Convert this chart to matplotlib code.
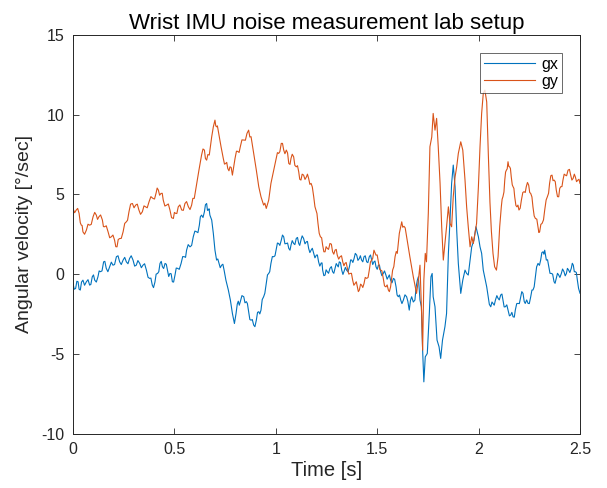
import matplotlib
matplotlib.use("Agg")
import matplotlib.pyplot as plt

plt.rcParams['font.family'] = ['Liberation Sans', 'DejaVu Sans']
plt.rcParams['axes.unicode_minus'] = False

# gx samples: (time [s], angular velocity [deg/s])
gx_samples = [
    (0.000, -0.59), (0.006, -0.95), (0.013, -0.90), (0.019, -0.45), (0.025, -0.48),
    (0.030, -0.95), (0.036, -1.00), (0.042, -0.50), (0.049, -0.38), (0.057, -0.70),
    (0.066, -0.48), (0.074, -0.35), (0.082, -0.69), (0.088, -0.65), (0.095, -0.17),
    (0.101, -0.05), (0.107, -0.38), (0.115, -0.50), (0.123, -0.17), (0.129, 0.20),
    (0.135, 0.15), (0.143, 0.20), (0.151, 0.77), (0.157, 0.80), (0.164, 0.36),
    (0.172, 0.15), (0.181, 0.46), (0.189, 0.75), (0.197, 0.56), (0.205, 0.60),
    (0.214, 1.09), (0.222, 1.15), (0.230, 0.77), (0.238, 0.60), (0.247, 0.88),
    (0.255, 1.05), (0.263, 0.77), (0.271, 0.65), (0.279, 0.98), (0.287, 1.15),
    (0.296, 0.88), (0.304, 0.50), (0.312, 0.56), (0.320, 0.85), (0.329, 0.67),
    (0.337, 0.40), (0.345, 0.56), (0.353, 0.65), (0.362, 0.25), (0.370, -0.20),
    (0.378, -0.27), (0.384, -0.25), (0.391, -0.69), (0.397, -0.85), (0.404, -0.50),
    (0.410, 0.00), (0.417, 0.04), (0.423, 0.15), (0.429, 0.67), (0.435, 0.80),
    (0.441, 0.46), (0.447, 0.35), (0.454, 0.67), (0.460, 0.62), (0.467, 0.15),
    (0.472, -0.15), (0.478, 0.04), (0.484, 0.02), (0.490, -0.48), (0.496, -0.50),
    (0.503, -0.06), (0.509, 0.38), (0.516, 0.36), (0.524, 0.30), (0.533, 0.67),
    (0.541, 1.10), (0.549, 1.09), (0.555, 1.05), (0.560, 1.50), (0.568, 1.85),
    (0.577, 1.71), (0.585, 1.80), (0.593, 2.34), (0.601, 2.70), (0.610, 2.65),
    (0.616, 2.60), (0.623, 3.07), (0.628, 3.60), (0.634, 3.70), (0.641, 3.55),
    (0.648, 3.91), (0.653, 4.35), (0.659, 4.43), (0.663, 4.00), (0.667, 4.02),
    (0.671, 4.10), (0.675, 3.70), (0.684, 3.39), (0.692, 2.55), (0.700, 1.50),
    (0.708, 0.88), (0.714, 0.95), (0.720, 0.67), (0.726, 0.40), (0.733, 0.56),
    (0.739, 0.62), (0.745, 0.25), (0.754, -0.38), (0.766, -1.00), (0.776, -1.63),
    (0.786, -2.47), (0.796, -3.10), (0.804, -2.47), (0.810, -1.88), (0.815, -1.70),
    (0.820, -1.95), (0.825, -1.73), (0.833, -1.35), (0.842, -1.42), (0.848, -1.80),
    (0.855, -1.73), (0.860, -1.85), (0.866, -2.36), (0.872, -2.85), (0.878, -2.89),
    (0.884, -2.85), (0.891, -3.20), (0.897, -3.30), (0.904, -2.89), (0.910, -2.40),
    (0.916, -2.36), (0.921, -2.50), (0.927, -2.26), (0.933, -1.60), (0.940, -1.42),
    (0.946, -1.20), (0.953, -0.59), (0.959, -0.05), (0.965, 0.04), (0.970, 0.15),
    (0.976, 0.67), (0.983, 1.10), (0.990, 1.09), (0.996, 1.15), (1.003, 1.61),
    (1.008, 1.95), (1.014, 1.92), (1.020, 1.80), (1.027, 2.13), (1.033, 2.45),
    (1.039, 2.34), (1.045, 1.90), (1.052, 1.92), (1.058, 1.95), (1.064, 1.61),
    (1.070, 1.50), (1.075, 1.82), (1.081, 2.10), (1.088, 1.92), (1.094, 1.85),
    (1.101, 2.24), (1.107, 2.30), (1.113, 1.92), (1.118, 1.80), (1.124, 2.13),
    (1.130, 2.40), (1.137, 2.24), (1.144, 1.90), (1.151, 2.03), (1.156, 2.05),
    (1.162, 1.61), (1.168, 1.35), (1.174, 1.50), (1.180, 1.62), (1.187, 1.30),
    (1.193, 1.02), (1.200, 1.19), (1.205, 1.20), (1.211, 0.77), (1.217, 0.50),
    (1.224, 0.70), (1.228, 0.70), (1.231, 0.25), (1.237, -0.10), (1.243, -0.06),
    (1.248, 0.27), (1.254, 0.15), (1.260, 0.05), (1.267, 0.36), (1.274, 0.47),
    (1.280, 0.15), (1.286, 0.05), (1.292, 0.36), (1.298, 0.66), (1.303, 0.56),
    (1.308, 0.45), (1.313, 0.77), (1.319, 0.72), (1.325, 0.25), (1.331, -0.02),
    (1.336, 0.15), (1.343, 0.42), (1.349, 0.25), (1.356, 0.14), (1.363, 0.46),
    (1.369, 0.89), (1.374, 0.88), (1.380, 0.73), (1.386, 0.98), (1.392, 1.30),
    (1.399, 1.19), (1.405, 0.86), (1.412, 0.98), (1.417, 1.15), (1.423, 0.88),
    (1.429, 0.77), (1.435, 1.09), (1.441, 1.15), (1.448, 0.77), (1.454, 0.72),
    (1.461, 1.09), (1.467, 1.20), (1.473, 0.88), (1.478, 0.60), (1.484, 0.77),
    (1.489, 0.82), (1.494, 0.46), (1.500, 0.30), (1.506, 0.56), (1.511, 0.57),
    (1.517, 0.15), (1.523, -0.10), (1.530, 0.04), (1.536, 0.20), (1.543, -0.06),
    (1.549, -0.32), (1.555, -0.17), (1.560, -0.05), (1.566, -0.38), (1.573, -0.55),
    (1.580, -0.27), (1.586, -0.33), (1.593, -0.80), (1.598, -1.31), (1.604, -1.42),
    (1.610, -1.31), (1.616, -1.63), (1.622, -1.85), (1.629, -1.63), (1.637, -1.30),
    (1.645, -1.42), (1.651, -1.70), (1.658, -2.26), (1.664, -1.65), (1.670, -1.42),
    (1.678, -1.75), (1.686, -1.63), (1.692, -0.80), (1.698, -0.38), (1.703, -0.17),
    (1.711, -1.63), (1.718, -2.05), (1.724, -4.77), (1.730, -6.76), (1.737, -5.19),
    (1.747, -4.98), (1.757, -2.47), (1.765, -0.17), (1.771, 0.04), (1.776, -1.42),
    (1.785, -2.05), (1.795, -4.14), (1.805, -4.56), (1.813, -5.29), (1.822, -4.14),
    (1.834, -3.30), (1.842, -2.47), (1.851, 1.30), (1.859, 3.39), (1.867, 5.69),
    (1.875, 6.84), (1.884, 5.48), (1.892, 2.76), (1.900, 0.67), (1.912, -1.21),
    (1.922, -0.38), (1.933, 0.25), (1.941, 0.04), (1.949, -0.06), (1.958, 0.88),
    (1.966, 1.71), (1.977, 2.13), (1.987, 2.97), (1.999, 2.34), (2.007, 1.71),
    (2.015, 1.30), (2.023, 0.25), (2.040, -0.80), (2.053, -1.90), (2.060, -2.05),
    (2.066, -1.75), (2.071, -1.84), (2.077, -1.95), (2.083, -1.63), (2.090, -1.35),
    (2.096, -1.52), (2.102, -1.62), (2.109, -1.31), (2.115, -1.25), (2.120, -1.63),
    (2.126, -2.06), (2.132, -2.05), (2.139, -1.93), (2.145, -2.26), (2.152, -2.62),
    (2.158, -2.57), (2.164, -2.40), (2.170, -2.68), (2.176, -2.70), (2.181, -2.26),
    (2.188, -1.85), (2.194, -1.84), (2.201, -1.85), (2.208, -1.42), (2.213, -1.10),
    (2.219, -1.21), (2.225, -1.72), (2.230, -1.84), (2.237, -1.62), (2.244, -1.84),
    (2.250, -1.85), (2.257, -1.42), (2.263, -1.00), (2.268, -1.00), (2.274, -0.80),
    (2.280, -0.17), (2.286, 0.45), (2.293, 0.67), (2.300, 0.55), (2.306, 0.88),
    (2.312, 1.35), (2.318, 1.40), (2.322, 1.25), (2.326, 1.50), (2.334, 0.88),
    (2.340, 0.90), (2.346, 0.46), (2.352, 0.05), (2.359, 0.04), (2.365, 0.00),
    (2.372, -0.48), (2.377, -0.58), (2.383, -0.27), (2.389, 0.05), (2.395, -0.06),
    (2.401, -0.21), (2.408, 0.04), (2.414, 0.32), (2.421, 0.15), (2.427, -0.11),
    (2.433, 0.04), (2.438, 0.36), (2.444, 0.25), (2.450, 0.10), (2.457, 0.36),
    (2.462, 0.68), (2.467, 0.56), (2.472, 0.15), (2.477, 0.15), (2.482, 0.10),
    (2.487, -0.38), (2.493, -0.90), (2.500, -1.20),
]

# gy samples: (time [s], angular velocity [deg/s])
gy_samples = [
    (0.000, 4.12), (0.008, 3.85), (0.016, 4.02), (0.023, 4.12), (0.030, 3.81),
    (0.036, 3.22), (0.041, 3.07), (0.045, 3.05), (0.049, 2.65), (0.057, 2.50),
    (0.066, 2.76), (0.074, 3.13), (0.082, 3.07), (0.090, 3.12), (0.099, 3.60),
    (0.107, 3.87), (0.115, 3.70), (0.121, 3.43), (0.128, 3.60), (0.136, 3.71),
    (0.145, 3.39), (0.150, 2.98), (0.156, 2.97), (0.164, 3.03), (0.173, 2.65),
    (0.181, 2.28), (0.189, 2.34), (0.197, 2.45), (0.205, 2.13), (0.211, 1.72),
    (0.217, 1.71), (0.223, 2.17), (0.230, 2.23), (0.238, 2.24), (0.247, 2.65),
    (0.255, 3.18), (0.263, 3.28), (0.269, 3.38), (0.276, 3.91), (0.284, 4.39),
    (0.293, 4.43), (0.301, 4.16), (0.309, 4.33), (0.317, 4.39), (0.325, 4.02),
    (0.333, 3.75), (0.342, 3.91), (0.350, 4.28), (0.358, 4.22), (0.366, 4.16),
    (0.375, 4.54), (0.384, 4.86), (0.394, 4.75), (0.402, 4.71), (0.410, 5.10),
    (0.415, 5.40), (0.421, 5.27), (0.427, 4.95), (0.434, 5.06), (0.440, 5.07),
    (0.445, 4.64), (0.453, 4.27), (0.462, 4.33), (0.470, 4.40), (0.478, 4.02),
    (0.486, 3.54), (0.495, 3.49), (0.500, 3.87), (0.506, 3.81), (0.512, 3.80),
    (0.519, 4.22), (0.527, 4.34), (0.536, 4.02), (0.544, 4.00), (0.552, 4.43),
    (0.560, 4.55), (0.569, 4.22), (0.577, 4.05), (0.585, 4.33), (0.591, 4.75),
    (0.598, 4.75), (0.610, 5.69), (0.621, 6.52), (0.634, 7.47), (0.641, 7.85),
    (0.648, 7.78), (0.653, 7.25), (0.659, 7.15), (0.665, 7.50), (0.672, 7.47),
    (0.684, 8.62), (0.692, 9.24), (0.700, 9.66), (0.704, 9.30), (0.708, 9.24),
    (0.712, 9.30), (0.717, 8.93), (0.730, 7.99), (0.741, 7.26), (0.747, 6.90),
    (0.753, 6.94), (0.758, 7.01), (0.763, 6.63), (0.769, 6.48), (0.774, 6.73),
    (0.780, 6.69), (0.786, 6.21), (0.799, 7.26), (0.806, 7.71), (0.812, 7.70),
    (0.819, 7.63), (0.825, 7.99), (0.833, 8.42), (0.842, 8.41), (0.850, 8.40),
    (0.858, 8.83), (0.866, 9.03), (0.872, 8.60), (0.878, 8.62), (0.891, 7.57),
    (0.904, 6.52), (0.916, 5.48), (0.927, 4.85), (0.940, 4.33), (0.946, 4.45),
    (0.953, 4.12), (0.965, 4.64), (0.976, 5.69), (0.990, 6.52), (1.003, 7.26),
    (1.008, 7.62), (1.014, 7.57), (1.020, 7.68), (1.027, 8.20), (1.033, 8.20),
    (1.039, 7.78), (1.045, 7.55), (1.052, 7.78), (1.058, 7.60), (1.064, 6.94),
    (1.070, 6.88), (1.075, 7.26), (1.081, 7.52), (1.088, 7.36), (1.094, 6.82),
    (1.101, 6.73), (1.107, 6.80), (1.113, 6.42), (1.118, 5.95), (1.124, 5.90),
    (1.130, 6.27), (1.137, 6.21), (1.144, 5.94), (1.151, 6.10), (1.156, 6.27),
    (1.162, 6.00), (1.168, 5.63), (1.174, 5.69), (1.180, 5.47), (1.187, 4.85),
    (1.193, 4.23), (1.198, 4.02), (1.203, 3.80), (1.208, 3.18), (1.214, 2.56),
    (1.220, 2.34), (1.226, 2.28), (1.231, 1.82), (1.237, 1.40), (1.243, 1.40),
    (1.248, 1.72), (1.254, 1.61), (1.260, 1.55), (1.267, 1.92), (1.274, 1.88),
    (1.280, 1.40), (1.286, 1.25), (1.292, 1.50), (1.298, 1.55), (1.303, 1.19),
    (1.310, 0.94), (1.317, 1.09), (1.324, 1.15), (1.330, 0.77), (1.336, 0.52),
    (1.341, 0.67), (1.347, 0.73), (1.353, 0.36), (1.360, 0.00), (1.366, 0.04),
    (1.373, 0.05), (1.379, -0.38), (1.385, -0.70), (1.391, -0.59), (1.397, -0.48),
    (1.402, -0.80), (1.407, -1.10), (1.412, -1.00), (1.418, -0.63), (1.423, -0.69),
    (1.429, -0.84), (1.435, -0.59), (1.441, -0.21), (1.448, -0.27), (1.455, -0.21),
    (1.461, 0.25), (1.467, 0.77), (1.473, 0.88), (1.478, 0.99), (1.484, 1.50),
    (1.494, 1.19), (1.500, 1.20), (1.506, 0.77), (1.512, 0.31), (1.517, 0.25),
    (1.523, 0.21), (1.530, -0.27), (1.536, -0.74), (1.543, -0.80), (1.549, -0.68),
    (1.555, -1.00), (1.560, -1.10), (1.566, -0.80), (1.576, 0.25), (1.582, 0.47),
    (1.588, 1.09), (1.594, 1.42), (1.599, 1.30), (1.609, 2.55), (1.621, 3.28),
    (1.626, 2.94), (1.632, 3.00), (1.638, 2.90), (1.645, 2.34), (1.661, 1.09),
    (1.678, -0.17), (1.694, -1.21), (1.703, -0.38), (1.711, 0.56), (1.719, -2.47),
    (1.724, -4.77), (1.730, -0.38), (1.737, 1.30), (1.743, 0.77), (1.752, 3.81),
    (1.760, 7.99), (1.769, 8.60), (1.776, 10.08), (1.785, 9.03), (1.793, 9.77),
    (1.801, 7.99), (1.810, 5.69), (1.818, 2.97), (1.826, 0.88), (1.834, 1.92),
    (1.842, 2.97), (1.851, 4.22), (1.859, 3.18), (1.867, 2.97), (1.875, 4.85),
    (1.884, 6.10), (1.892, 6.73), (1.900, 7.57), (1.912, 8.30), (1.922, 7.78),
    (1.933, 5.90), (1.941, 4.22), (1.949, 2.97), (1.958, 1.71), (1.966, 2.34),
    (1.974, 1.92), (1.982, 2.55), (1.990, 3.18), (1.999, 5.48), (2.007, 7.99),
    (2.015, 10.08), (2.023, 11.33), (2.031, 11.54), (2.040, 10.80), (2.048, 7.50),
    (2.056, 4.50), (2.063, 2.70), (2.071, 1.30), (2.079, 0.46), (2.088, 0.25),
    (2.096, 1.09), (2.104, 2.97), (2.112, 4.22), (2.116, 4.70), (2.120, 4.85),
    (2.125, 5.15), (2.129, 5.90), (2.133, 6.40), (2.137, 6.52), (2.141, 6.60),
    (2.145, 7.05), (2.149, 6.75), (2.153, 6.73), (2.157, 6.62), (2.161, 6.10),
    (2.166, 5.60), (2.170, 5.48), (2.174, 5.38), (2.178, 4.85), (2.184, 4.30),
    (2.189, 4.22), (2.194, 4.33), (2.199, 4.02), (2.205, 4.13), (2.211, 4.64),
    (2.218, 5.12), (2.224, 5.17), (2.230, 5.12), (2.235, 5.48), (2.241, 5.75),
    (2.247, 5.58), (2.252, 5.12), (2.257, 5.06), (2.263, 4.84), (2.268, 4.22),
    (2.274, 3.65), (2.280, 3.49), (2.287, 3.45), (2.293, 2.97), (2.297, 2.61),
    (2.301, 2.65), (2.307, 3.12), (2.313, 3.18), (2.320, 3.40), (2.326, 4.02),
    (2.333, 4.65), (2.339, 4.85), (2.345, 5.07), (2.350, 5.69), (2.356, 6.17),
    (2.362, 6.21), (2.367, 5.86), (2.372, 5.90), (2.378, 5.80), (2.383, 5.27),
    (2.389, 4.86), (2.395, 4.85), (2.400, 5.37), (2.405, 5.48), (2.411, 5.49),
    (2.416, 5.90), (2.422, 6.27), (2.428, 6.21), (2.434, 6.17), (2.441, 6.52),
    (2.448, 6.57), (2.454, 6.21), (2.460, 5.90), (2.466, 6.00), (2.472, 6.27),
    (2.477, 6.10), (2.483, 5.80), (2.490, 5.90), (2.495, 5.95), (2.500, 5.69),
]

series_names = ['gx', 'gy']
series_colors = ['#0072BD', '#D95319']
x_ticks = [0, 0.5, 1, 1.5, 2, 2.5]
x_tick_labels = ['0', '0.5', '1', '1.5', '2', '2.5']
y_ticks = [-10, -5, 0, 5, 10, 15]
y_tick_labels = ['-10', '-5', '0', '5', '10', '15']

fig = plt.figure(figsize=(6.07, 4.88), dpi=100)
ax = fig.add_axes([73/607, 1-433.5/488, 507/607, (433.5-35)/488])

for samples, name, col in zip([gx_samples, gy_samples], series_names, series_colors):
    t, v = zip(*samples)
    ax.plot(t, v, color=col, lw=0.8, label=name)

ax.set_xlim(0, 2.5)
ax.set_ylim(-10, 15)
ax.set_xticks(x_ticks)
ax.set_xticklabels(x_tick_labels)
ax.set_yticks(y_ticks)
ax.set_yticklabels(y_tick_labels)
ax.tick_params(direction='in', top=True, right=True, length=4, width=0.6,
               labelsize=11.5, colors='#262626', pad=6)
for s in ax.spines.values():
    s.set_linewidth(0.7)
    s.set_color('#262626')

ax.set_xlabel('Time [s]', fontsize=14.5, color='#262626', labelpad=3)
ax.set_ylabel('Angular velocity [°/sec]', fontsize=14, color='#262626', labelpad=6)
ax.set_title('Wrist IMU noise measurement lab setup', fontsize=16, color='black', pad=4)

leg = ax.legend(loc='upper right', fontsize=11.5, frameon=True, fancybox=False,
                borderaxespad=1.1, handlelength=3.2, edgecolor='#262626',
                borderpad=0.25, labelspacing=0.15, handletextpad=0.4)
leg.get_frame().set_linewidth(0.6)

fig.savefig('out.png', dpi=100)
